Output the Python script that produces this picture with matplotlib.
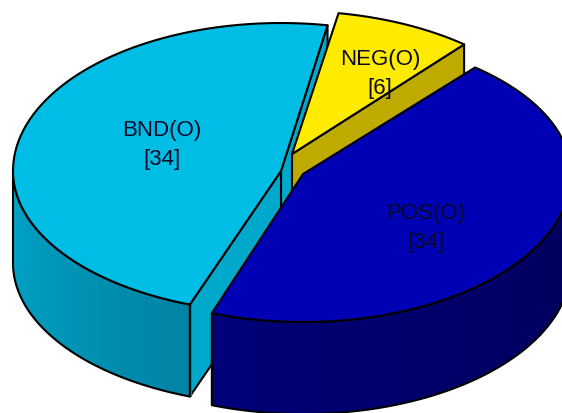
import numpy as np
import matplotlib
matplotlib.use("Agg")
from matplotlib import pyplot as plt
from matplotlib.patches import Polygon
from matplotlib.colors import to_rgb

plt.rcParams['font.family'] = ['Liberation Sans', 'DejaVu Sans']

categories = ["BND(O)", "POS(O)", "NEG(O)"]
values = [34, 34, 6]

# pie geometry in pixels
RX = 268
DEPTH = 92
START_ANGLE = 80
CENTERS = {"BND(O)": (281, 172), "POS(O)": (303, 175), "NEG(O)": (292, 155)}
# vertical radius (back half, front half) of each slice
RY = {"BND(O)": (148, 142), "POS(O)": (139, 148), "NEG(O)": (143, 148)}
LABEL_POS = {"BND(O)": (162, 145), "POS(O)": (426, 228), "NEG(O)": (380, 74)}
TOP_COLORS = {"BND(O)": "#00BDE6", "POS(O)": "#0000B4", "NEG(O)": "#FFEB00"}
CUT_COLORS = {"BND(O)": "#00A8CC", "NEG(O)": "#BFAB00"}
SIDE_COLORS = {
    "BND(O)": ("#00A6C8", "#0084A6"),
    "POS(O)": ("#000078", "#00005A"),
}
EDGE = "#000000"
LW = 1.5


def warp(t):
    # the tilted view squeezes some sectors, shift the angle a little
    phi = np.radians(-45)
    return t + 3.0 * (np.sin(np.radians(t) + phi) - np.sin(phi))


def rim(cat, a0, a1, n=80):
    cx, cy = CENTERS[cat]
    back, front = RY[cat]
    angles = np.radians(np.linspace(a0, a1, n))
    sines = np.sin(angles)
    return np.column_stack([cx + RX * np.cos(angles),
                            cy - np.where(sines > 0, back, front) * sines])


def draw_side(ax, cat, a0, a1):
    # outer wall: only the front half of the rim shows
    lo = max(a0, 180)
    hi = min(a1, 360)
    c0, c1 = (np.array(to_rgb(c)) for c in SIDE_COLORS[cat])
    bands = 24
    edges = np.linspace(lo, hi, bands + 1)
    for i in range(bands):
        pts = rim(cat, edges[i], edges[i + 1] + 0.4, 6)
        wall = np.vstack([pts, pts[::-1] + [0, DEPTH]])
        col = c0 + (c1 - c0) * (i / (bands - 1))
        ax.add_patch(Polygon(wall, closed=True, facecolor=col, edgecolor="none", antialiased=False))
    pts = rim(cat, lo, hi)
    outline = np.vstack([pts, pts[::-1] + [0, DEPTH]])
    ax.add_patch(Polygon(outline, closed=True, facecolor="none", edgecolor=EDGE, linewidth=LW, joinstyle="round"))


def draw_cut(ax, cat, angle):
    # flat face left by pulling the slice out
    center = np.array(CENTERS[cat], dtype=float)
    tip = rim(cat, angle, angle, 1)[0]
    face = [center, tip, tip + [0, DEPTH], center + [0, DEPTH]]
    ax.add_patch(Polygon(face, closed=True, facecolor=CUT_COLORS[cat], edgecolor=EDGE, linewidth=LW, joinstyle="round"))


def draw_top(ax, cat, a0, a1):
    top = np.vstack([[CENTERS[cat]], rim(cat, a0, a1)])
    ax.add_patch(Polygon(top, closed=True, facecolor=TOP_COLORS[cat], edgecolor=EDGE, linewidth=LW, joinstyle="round"))


fig = plt.figure(figsize=(5.62, 4.14), dpi=100)
ax = fig.add_axes([0, 0, 1, 1])
ax.set_xlim(0, 562)
ax.set_ylim(414, 0)
ax.axis("off")

# slice angles follow the values, going counter-clockwise
cum = np.cumsum([0] + values) / sum(values) * 360
spans = {}
for i, cat in enumerate(categories):
    spans[cat] = (START_ANGLE + warp(cum[i]), START_ANGLE + warp(cum[i + 1]))

# back to front: BND, then NEG, then POS on top
a0, a1 = spans["BND(O)"]
draw_cut(ax, "BND(O)", a0)
draw_cut(ax, "BND(O)", a1)
draw_side(ax, "BND(O)", a0, a1)
draw_top(ax, "BND(O)", a0, a1)

a0, a1 = spans["NEG(O)"]
draw_cut(ax, "NEG(O)", a0)
draw_top(ax, "NEG(O)", a0, a1)

a0, a1 = spans["POS(O)"]
draw_side(ax, "POS(O)", a0, a1)
draw_top(ax, "POS(O)", a0, a1)

for cat, val in zip(categories, values):
    x, y = LABEL_POS[cat]
    ax.text(x, y, f"{cat}\n[{val}]", ha="center", va="center", fontsize=16,
            color="#0A0A28", linespacing=1.45, zorder=10)

fig.savefig("out.png", dpi=100)
